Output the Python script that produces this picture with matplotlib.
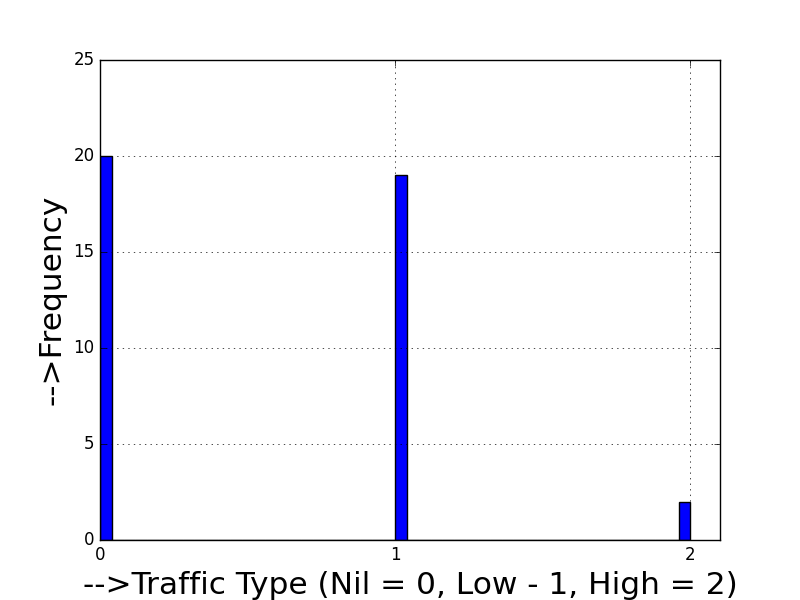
import matplotlib
matplotlib.use("Agg")
import matplotlib.pyplot as plt

plt.style.use('classic')

traffic_types = [0, 1, 2]
frequencies = [20, 19, 2]

fig = plt.figure(figsize=(8, 6), dpi=100)
ax = fig.add_subplot(111)
ax.hist(traffic_types, bins=50, range=(0, 2), weights=frequencies, color='blue')
ax.set_xlim(0, 2.1)
ax.set_ylim(0, 25)
ax.set_xticks([0, 1, 2])
ax.grid(True)
ax.set_xlabel('-->Traffic Type (Nil = 0, Low - 1, High = 2)', fontsize=22.5)
ax.set_ylabel('-->Frequency', fontsize=22.5)
fig.savefig('out.png', dpi=100)
